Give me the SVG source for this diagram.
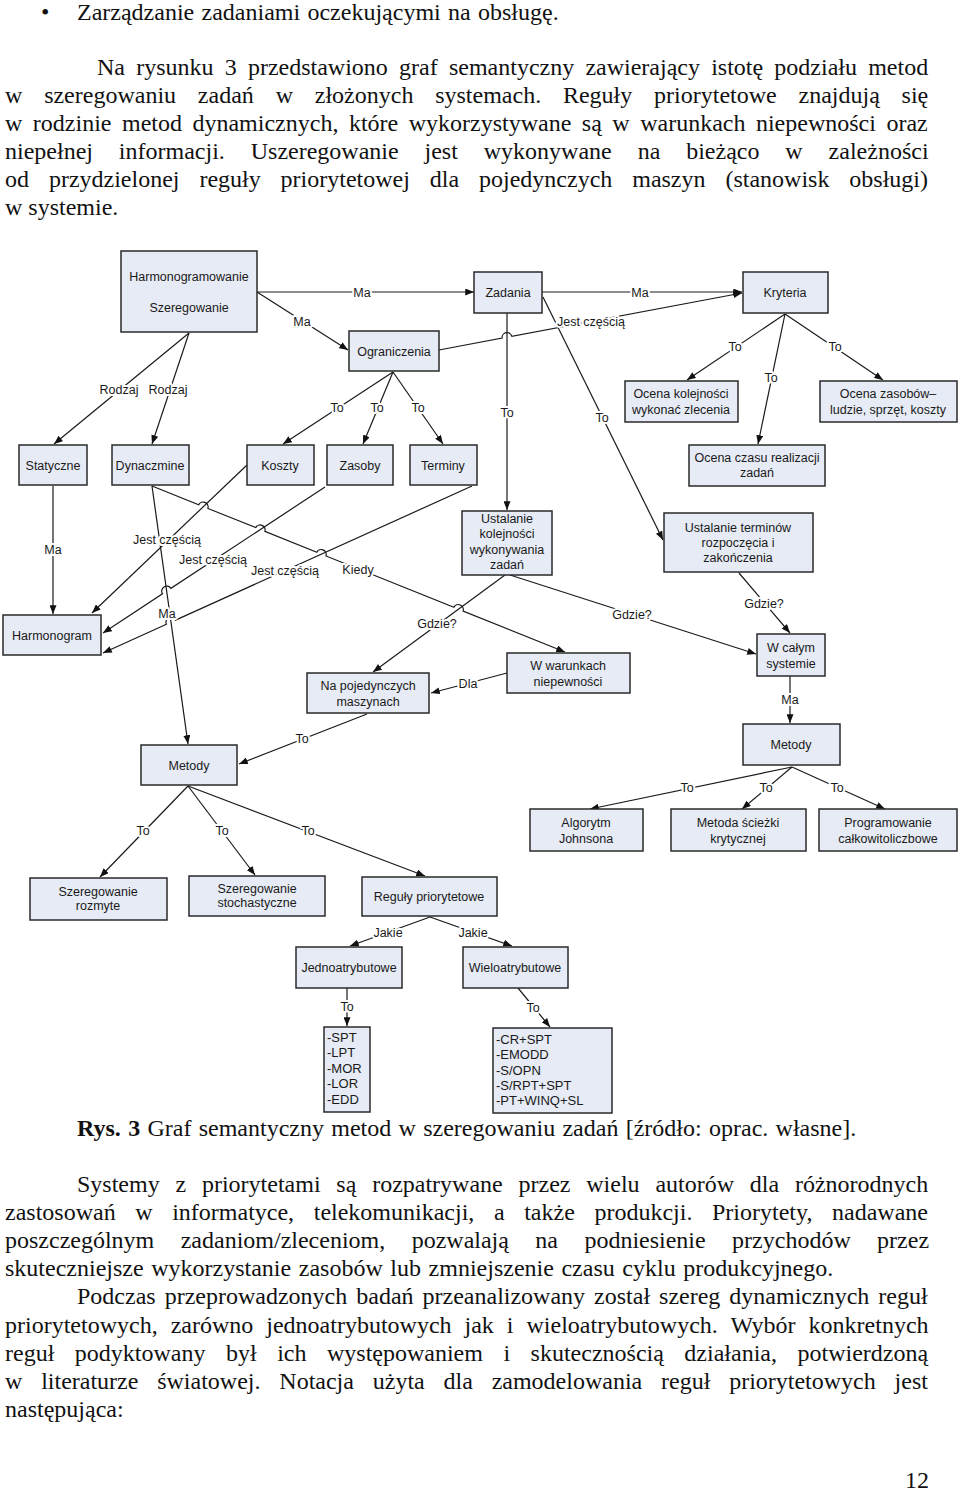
<svg xmlns="http://www.w3.org/2000/svg" width="960" height="1493" viewBox="0 0 960 1493">
<style>
.body{font-family:"Liberation Serif","Times New Roman",serif;font-size:24px;fill:#111}
.box{fill:#e6ebf5;stroke:#2a2a2a;stroke-width:1.5}
.t{font-family:"Liberation Sans",Arial,sans-serif;font-size:12.5px;fill:#1a1a1a;text-anchor:middle}
.tl{font-family:"Liberation Sans",Arial,sans-serif;font-size:13px;fill:#1a1a1a}
.lbl{font-family:"Liberation Sans",Arial,sans-serif;font-size:12.5px;fill:#1a1a1a;text-anchor:middle;paint-order:stroke;stroke:#fff;stroke-width:4px;stroke-linejoin:round}
.c{fill:none;stroke:#1a1a1a;stroke-width:1.2}
</style>
<defs>
<marker id="ah" viewBox="0 0 10 8" refX="10" refY="4" markerWidth="9" markerHeight="7" markerUnits="userSpaceOnUse" orient="auto"><path d="M0,0 L10,4 L0,8 z" fill="#111"/></marker>
</defs>
<rect width="960" height="1493" fill="#fff"/>

<g id="text-top">
<text class="body" x="41" y="20">•</text>
<text class="body" x="77" y="20" word-spacing="1.3">Zarządzanie zadaniami oczekującymi na obsługę.</text>
<text class="body" x="97" y="75" word-spacing="5.2">Na rysunku 3 przedstawiono graf semantyczny zawierający istotę podziału metod</text>
<text class="body" x="5" y="103" word-spacing="15.8">w szeregowaniu zadań w złożonych systemach. Reguły priorytetowe znajdują się</text>
<text class="body" x="5" y="131" word-spacing="4.5">w rodzinie metod dynamicznych, które wykorzystywane są w warunkach niepewności oraz</text>
<text class="body" x="5" y="159" word-spacing="19.9">niepełnej informacji. Uszeregowanie jest wykonywane na bieżąco w zależności</text>
<text class="body" x="5" y="187" word-spacing="13.9">od przydzielonej reguły priorytetowej dla pojedynczych maszyn (stanowisk obsługi)</text>
<text class="body" x="5" y="215">w systemie.</text>
</g>

<g id="connectors">
<path class="c" d="M257,292 L474,292" marker-end="url(#ah)"/>
<path class="c" d="M257,292 L348,350" marker-end="url(#ah)"/>
<path class="c" d="M189,333 L54,444" marker-end="url(#ah)"/>
<path class="c" d="M189,333 L152,444" marker-end="url(#ah)"/>
<path class="c" d="M393,372 L283,444" marker-end="url(#ah)"/>
<path class="c" d="M393,372 L363,444" marker-end="url(#ah)"/>
<path class="c" d="M393,372 L443,444" marker-end="url(#ah)"/>
<path class="c" d="M439,350 L502.1,338.1 A5,5 0 0 1 511.9,336.3 L742,293" marker-end="url(#ah)"/>
<path class="c" d="M542,292 L742,292" marker-end="url(#ah)"/>
<path class="c" d="M507,313 L507,510" marker-end="url(#ah)"/>
<path class="c" d="M543,297 L663,540" marker-end="url(#ah)"/>
<path class="c" d="M785,314 L687,380" marker-end="url(#ah)"/>
<path class="c" d="M785,314 L758,444" marker-end="url(#ah)"/>
<path class="c" d="M785,314 L883,380" marker-end="url(#ah)"/>
<path class="c" d="M510,575 L756,654" marker-end="url(#ah)"/>
<path class="c" d="M739,573 L790,633" marker-end="url(#ah)"/>
<path class="c" d="M790,676 L790,723" marker-end="url(#ah)"/>
<path class="c" d="M792,767 L590,809" marker-end="url(#ah)"/>
<path class="c" d="M792,767 L742,809" marker-end="url(#ah)"/>
<path class="c" d="M792,767 L885,809" marker-end="url(#ah)"/>
<path class="c" d="M505,575 L373,672" marker-end="url(#ah)"/>
<path class="c" d="M507,673 L431,693" marker-end="url(#ah)"/>
<path class="c" d="M152,486 L198.7,504.7 A5,5 0 0 1 207.9,508.5 L255.7,527.6 A5,5 0 0 1 264.9,531.4 L316.8,552.2 A5,5 0 0 1 326,556 L453.9,607.3 A5,5 0 0 1 463.1,611.1 L565,652" marker-end="url(#ah)"/>
<path class="c" d="M152,486 L188,744" marker-end="url(#ah)"/>
<path class="c" d="M367,714 L239,764" marker-end="url(#ah)"/>
<path class="c" d="M53,486 L53,614" marker-end="url(#ah)"/>
<path class="c" d="M247,465 L92,613" marker-end="url(#ah)"/>
<path class="c" d="M325,487 L170.9,588.35 A5,5 0 0 0 162.5,593.85 L103,633" marker-end="url(#ah)"/>
<path class="c" d="M472,486 L175.56,620.14 A5,5 0 0 0 166.44,624.26 L103,653" marker-end="url(#ah)"/>
<path class="c" d="M188,786 L100,877" marker-end="url(#ah)"/>
<path class="c" d="M188,786 L255,875" marker-end="url(#ah)"/>
<path class="c" d="M188,786 L425,876" marker-end="url(#ah)"/>
<path class="c" d="M430,917 L350,946" marker-end="url(#ah)"/>
<path class="c" d="M430,917 L512,946" marker-end="url(#ah)"/>
<path class="c" d="M347,988 L347,1026" marker-end="url(#ah)"/>
<path class="c" d="M518,988 L550,1027" marker-end="url(#ah)"/>

<text class="lbl" x="362" y="296.5">Ma</text>
<text class="lbl" x="302" y="325.5">Ma</text>
<text class="lbl" x="119" y="393.5">Rodzaj</text>
<text class="lbl" x="168" y="393.5">Rodzaj</text>
<text class="lbl" x="337" y="411.5">To</text>
<text class="lbl" x="377" y="411.5">To</text>
<text class="lbl" x="418" y="411.5">To</text>
<text class="lbl" x="591" y="325.5">Jest częścią</text>
<text class="lbl" x="640" y="296.5">Ma</text>
<text class="lbl" x="507" y="416.5">To</text>
<text class="lbl" x="602" y="421.5">To</text>
<text class="lbl" x="735" y="350.5">To</text>
<text class="lbl" x="771" y="381.5">To</text>
<text class="lbl" x="835" y="350.5">To</text>
<text class="lbl" x="632" y="618.5">Gdzie?</text>
<text class="lbl" x="764" y="607.5">Gdzie?</text>
<text class="lbl" x="790" y="703.5">Ma</text>
<text class="lbl" x="687" y="791.5">To</text>
<text class="lbl" x="766" y="791.5">To</text>
<text class="lbl" x="837" y="791.5">To</text>
<text class="lbl" x="437" y="627.5">Gdzie?</text>
<text class="lbl" x="468" y="687.5">Dla</text>
<text class="lbl" x="358" y="573.5">Kiedy</text>
<text class="lbl" x="167" y="617.5">Ma</text>
<text class="lbl" x="302" y="742.5">To</text>
<text class="lbl" x="53" y="553.5">Ma</text>
<text class="lbl" x="167" y="543.5">Jest częścią</text>
<text class="lbl" x="213" y="563.5">Jest częścią</text>
<text class="lbl" x="285" y="574.5">Jest częścią</text>
<text class="lbl" x="143" y="834.5">To</text>
<text class="lbl" x="222" y="834.5">To</text>
<text class="lbl" x="308" y="834.5">To</text>
<text class="lbl" x="388" y="936.5">Jakie</text>
<text class="lbl" x="473" y="936.5">Jakie</text>
<text class="lbl" x="347" y="1010.5">To</text>
<text class="lbl" x="533" y="1011.5">To</text>
</g>

<g id="n-harmonogramowanie"><rect class="box" x="121" y="251" width="136" height="81"/><text class="t" x="189" y="280.5">Harmonogramowanie</text><text class="t" x="189" y="311.5">Szeregowanie</text></g>
<g id="n-zadania"><rect class="box" x="474" y="272" width="68" height="41"/><text class="t" x="508" y="296.5">Zadania</text></g>
<g id="n-kryteria"><rect class="box" x="743" y="272" width="85" height="41"/><text class="t" x="785" y="296.5">Kryteria</text></g>
<g id="n-ograniczenia"><rect class="box" x="349" y="331" width="90" height="40"/><text class="t" x="394" y="355.5">Ograniczenia</text></g>
<g id="n-ocena-kolejnosci"><rect class="box" x="625" y="381" width="113" height="41"/><text class="t" x="681" y="397.5">Ocena kolejności</text><text class="t" x="681" y="413.5">wykonać zlecenia</text></g>
<g id="n-ocena-zasobow"><rect class="box" x="820" y="381" width="137" height="41"/><text class="t" x="888" y="397.5">Ocena zasobów–</text><text class="t" x="888" y="413.5">ludzie, sprzęt, koszty</text></g>
<g id="n-statyczne"><rect class="box" x="19" y="445" width="68" height="40"/><text class="t" x="53" y="469.5">Statyczne</text></g>
<g id="n-dynaczmine"><rect class="box" x="112" y="445" width="77" height="40"/><text class="t" x="150" y="469.5">Dynaczmine</text></g>
<g id="n-koszty"><rect class="box" x="247" y="445" width="67" height="40"/><text class="t" x="280" y="469.5">Koszty</text></g>
<g id="n-zasoby"><rect class="box" x="327" y="445" width="66" height="40"/><text class="t" x="360" y="469.5">Zasoby</text></g>
<g id="n-terminy"><rect class="box" x="410" y="445" width="67" height="40"/><text class="t" x="443" y="469.5">Terminy</text></g>
<g id="n-ocena-czasu"><rect class="box" x="689" y="445" width="136" height="41"/><text class="t" x="757" y="461.5">Ocena czasu realizacji</text><text class="t" x="757" y="476.5">zadań</text></g>
<g id="n-ustalanie-kolejnosci"><rect class="box" x="462" y="511" width="90" height="64"/><text class="t" x="507" y="522.5">Ustalanie</text><text class="t" x="507" y="537.5">kolejności</text><text class="t" x="507" y="553.5">wykonywania</text><text class="t" x="507" y="568.5">zadań</text></g>
<g id="n-ustalanie-terminow"><rect class="box" x="664" y="513" width="149" height="59"/><text class="t" x="738" y="531.5">Ustalanie terminów</text><text class="t" x="738" y="546.5">rozpoczęcia i</text><text class="t" x="738" y="561.5">zakończenia</text></g>
<g id="n-harmonogram"><rect class="box" x="3" y="615" width="98" height="40"/><text class="t" x="52" y="639.5">Harmonogram</text></g>
<g id="n-w-calym"><rect class="box" x="757" y="634" width="68" height="42"/><text class="t" x="791" y="651.5">W całym</text><text class="t" x="791" y="667.5">systemie</text></g>
<g id="n-w-warunkach"><rect class="box" x="507" y="653" width="123" height="40"/><text class="t" x="568" y="669.5">W warunkach</text><text class="t" x="568" y="685.5">niepewności</text></g>
<g id="n-na-pojedynczych"><rect class="box" x="307" y="673" width="122" height="40"/><text class="t" x="368" y="689.5">Na pojedynczych</text><text class="t" x="368" y="705.5">maszynach</text></g>
<g id="n-metody1"><rect class="box" x="141" y="745" width="96" height="40"/><text class="t" x="189" y="769.5">Metody</text></g>
<g id="n-metody2"><rect class="box" x="743" y="724" width="97" height="41"/><text class="t" x="791" y="748.5">Metody</text></g>
<g id="n-algorytm"><rect class="box" x="530" y="809" width="113" height="42"/><text class="t" x="586" y="826.5">Algorytm</text><text class="t" x="586" y="842.5">Johnsona</text></g>
<g id="n-metoda-sciezki"><rect class="box" x="671" y="809" width="135" height="42"/><text class="t" x="738" y="826.5">Metoda ścieżki</text><text class="t" x="738" y="842.5">krytycznej</text></g>
<g id="n-programowanie"><rect class="box" x="819" y="809" width="138" height="42"/><text class="t" x="888" y="826.5">Programowanie</text><text class="t" x="888" y="842.5">całkowitoliczbowe</text></g>
<g id="n-sz-rozmyte"><rect class="box" x="30" y="878" width="137" height="42"/><text class="t" x="98" y="895.5">Szeregowanie</text><text class="t" x="98" y="909.5">rozmyte</text></g>
<g id="n-sz-stochastyczne"><rect class="box" x="189" y="876" width="136" height="40"/><text class="t" x="257" y="892.5">Szeregowanie</text><text class="t" x="257" y="906.5">stochastyczne</text></g>
<g id="n-reguly"><rect class="box" x="362" y="877" width="135" height="39"/><text class="t" x="429" y="900.5">Reguły priorytetowe</text></g>
<g id="n-jednoatrybutowe"><rect class="box" x="296" y="947" width="106" height="41"/><text class="t" x="349" y="971.5">Jednoatrybutowe</text></g>
<g id="n-wieloatrybutowe"><rect class="box" x="463" y="947" width="105" height="41"/><text class="t" x="515" y="971.5">Wieloatrybutowe</text></g>
<g id="n-lista-jedno"><rect class="box" x="324" y="1027" width="46" height="85"/><text class="tl" x="327" y="1041.5">-SPT</text><text class="tl" x="327" y="1057">-LPT</text><text class="tl" x="327" y="1072.5">-MOR</text><text class="tl" x="327" y="1088">-LOR</text><text class="tl" x="327" y="1104">-EDD</text></g>
<g id="n-lista-wielo"><rect class="box" x="493" y="1028" width="119" height="85"/><text class="tl" x="496" y="1043.5">-CR+SPT</text><text class="tl" x="496" y="1059">-EMODD</text><text class="tl" x="496" y="1074.5">-S/OPN</text><text class="tl" x="496" y="1089.5">-S/RPT+SPT</text><text class="tl" x="496" y="1105">-PT+WINQ+SL</text></g>

<g id="text-bottom">
<text class="body" x="77" y="1136" word-spacing="1.3"><tspan font-weight="bold">Rys. 3</tspan> Graf semantyczny metod w szeregowaniu zadań [źródło: oprac. własne].</text>
<text class="body" x="77" y="1192" word-spacing="9.8">Systemy z priorytetami są rozpatrywane przez wielu autorów dla różnorodnych</text>
<text class="body" x="5" y="1220" word-spacing="13.6">zastosowań w informatyce, telekomunikacji, a także produkcji. Priorytety, nadawane</text>
<text class="body" x="5" y="1248" word-spacing="20.4">poszczególnym zadaniom/zleceniom, pozwalają na podniesienie przychodów przez</text>
<text class="body" x="5" y="1276" word-spacing="1.6">skuteczniejsze wykorzystanie zasobów lub zmniejszenie czasu cyklu produkcyjnego.</text>
<text class="body" x="77" y="1304" word-spacing="3">Podczas przeprowadzonych badań przeanalizowany został szereg dynamicznych reguł</text>
<text class="body" x="5" y="1333" word-spacing="7">priorytetowych, zarówno jednoatrybutowych jak i wieloatrybutowych. Wybór konkretnych</text>
<text class="body" x="5" y="1361" word-spacing="14.5">reguł podyktowany był ich występowaniem i skutecznością działania, potwierdzoną</text>
<text class="body" x="5" y="1389" word-spacing="12.8">w literaturze światowej. Notacja użyta dla zamodelowania reguł priorytetowych jest</text>
<text class="body" x="5" y="1417">następująca:</text>
<text class="body" x="905" y="1488">12</text>
</g>
</svg>
